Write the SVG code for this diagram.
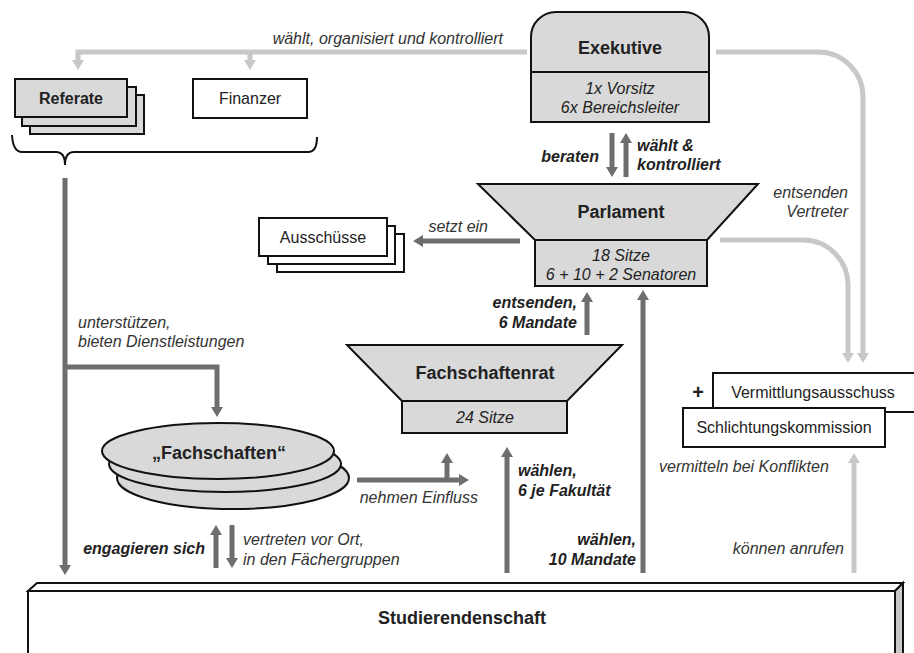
<svg xmlns="http://www.w3.org/2000/svg" width="914" height="653" viewBox="0 0 914 653">
<defs>
<style>
text{font-family:"Liberation Sans",Arial,sans-serif;fill:#222}
.t{font-size:18px;font-weight:bold;text-anchor:middle}
.n{font-size:16px;text-anchor:middle}
.i{font-size:16px;font-style:italic;fill:#333}
.bi{font-size:16px;font-style:italic;font-weight:bold;fill:#222}
.box{fill:#fff;stroke:#111;stroke-width:2}
.gbox{fill:#d9d9d9;stroke:#111;stroke-width:2}
.dk{fill:none;stroke:#6e6e6e;stroke-width:5}
.lt{fill:none;stroke:#c8c8c8;stroke-width:5}
.brace{fill:none;stroke:#111;stroke-width:2}
</style>
<marker id="ad" markerWidth="10" markerHeight="12" refX="0" refY="6" orient="auto" markerUnits="userSpaceOnUse"><path d="M0,0 L10,6 L0,12 z" fill="#6e6e6e"/></marker>
<marker id="al" markerWidth="10" markerHeight="12" refX="0" refY="6" orient="auto" markerUnits="userSpaceOnUse"><path d="M0,0 L10,6 L0,12 z" fill="#c8c8c8"/></marker>
</defs>
<rect width="914" height="653" fill="#fff"/>

<g id="connectors">
<path class="lt" d="M527,52 H78 V60" marker-end="url(#al)"/>
<path class="lt" d="M250,52 V60" marker-end="url(#al)"/>
<path class="lt" d="M716,52 H818 A45,45 0 0 1 863,97 V353" marker-end="url(#al)"/>
<path class="lt" d="M720,240 H803 A45,45 0 0 1 848,285 V353" marker-end="url(#al)"/>
<path class="lt" d="M854,573 V463" marker-end="url(#al)"/>
<path class="dk" d="M612,133 V167" marker-end="url(#ad)"/>
<path class="dk" d="M626,177 V143" marker-end="url(#ad)"/>
<path class="dk" d="M520,241 H423" marker-end="url(#ad)"/>
<path class="dk" d="M587,335 V302" marker-end="url(#ad)"/>
<path class="dk" d="M643,573 V300" marker-end="url(#ad)"/>
<path class="dk" d="M507,573 V457" marker-end="url(#ad)"/>
<path class="dk" d="M357,480 H459" marker-end="url(#ad)"/>
<path class="dk" d="M447,482 V463" marker-end="url(#ad)"/>
<path class="dk" d="M65,178 V565" marker-end="url(#ad)"/>
<path class="dk" d="M65,367 H217 V407" marker-end="url(#ad)"/>
<path class="dk" d="M216,568 V535" marker-end="url(#ad)"/>
<path class="dk" d="M232,525 V558" marker-end="url(#ad)"/>
<path class="brace" d="M12,135 Q13,152 22,152 H56 Q65,152 65,165 M65,165 Q65,152 74,152 H308 Q317,152 317,137"/>
</g>

<g id="labels">
<text class="i" x="503" y="44" text-anchor="end">wählt, organisiert und kontrolliert</text>
<text class="bi" x="599" y="162" text-anchor="end">beraten</text>
<text class="bi" x="637" y="151">wählt &amp;</text>
<text class="bi" x="637" y="170">kontrolliert</text>
<text class="i" x="848" y="198" text-anchor="end">entsenden</text>
<text class="i" x="848" y="217" text-anchor="end">Vertreter</text>
<text class="i" x="488" y="232" text-anchor="end">setzt ein</text>
<text class="bi" x="577" y="308" text-anchor="end">entsenden,</text>
<text class="bi" x="577" y="328" text-anchor="end">6 Mandate</text>
<text class="i" x="78" y="328">unterstützen,</text>
<text class="i" x="78" y="347">bieten Dienstleistungen</text>
<text class="i" x="478" y="503" text-anchor="end">nehmen Einfluss</text>
<text class="bi" x="518" y="476">wählen,</text>
<text class="bi" x="518" y="496">6 je Fakultät</text>
<text class="i" x="659" y="472">vermitteln bei Konflikten</text>
<text class="bi" x="205" y="554" text-anchor="end">engagieren sich</text>
<text class="i" x="243" y="545">vertreten vor Ort,</text>
<text class="i" x="243" y="565">in den Fächergruppen</text>
<text class="bi" x="636" y="545" text-anchor="end">wählen,</text>
<text class="bi" x="636" y="565" text-anchor="end">10 Mandate</text>
<text class="i" x="844" y="554" text-anchor="end">können anrufen</text>
</g>

<g id="exekutive">
<path class="gbox" d="M531,122 V37 A25,25 0 0 1 556,12 H684 A25,25 0 0 1 709,37 V122 Z"/>
<line x1="531" y1="72" x2="709" y2="72" stroke="#111" stroke-width="2"/>
<text class="t" x="620" y="54">Exekutive</text>
<text class="n" x="620" y="94" font-style="italic" fill="#333">1x Vorsitz</text>
<text class="n" x="620" y="113" font-style="italic" fill="#333">6x Bereichsleiter</text>
</g>

<g id="referate">
<rect class="gbox" x="30" y="95" width="114" height="39"/>
<rect class="gbox" x="22" y="87" width="114" height="39"/>
<rect class="gbox" x="15" y="79" width="112" height="38"/>
<text class="n" x="71" y="104" font-weight="bold">Referate</text>
</g>

<g id="finanzer">
<rect class="box" x="193" y="79" width="114" height="39"/>
<text class="n" x="250" y="104">Finanzer</text>
</g>

<g id="parlament">
<path class="gbox" d="M478,184 H758 L707,240 H535 Z"/>
<rect class="gbox" x="535" y="240" width="172" height="46"/>
<text class="t" x="621" y="218">Parlament</text>
<text class="n" x="621" y="261" font-style="italic" fill="#333">18 Sitze</text>
<text class="n" x="621" y="280" font-style="italic" fill="#333">6 + 10 + 2 Senatoren</text>
</g>

<g id="ausschuesse">
<rect class="box" x="277" y="234" width="127" height="38"/>
<rect class="box" x="268" y="226" width="127" height="38"/>
<rect class="box" x="259" y="218" width="128" height="38"/>
<text class="n" x="323" y="243">Ausschüsse</text>
</g>

<g id="fachschaftenrat">
<path class="gbox" d="M347,345 H622 L567,401 H402 Z"/>
<rect class="gbox" x="402" y="401" width="165" height="32"/>
<text class="t" x="485" y="379">Fachschaftenrat</text>
<text class="n" x="485" y="423" font-style="italic" fill="#333">24 Sitze</text>
</g>

<g id="fachschaften">
<ellipse class="gbox" cx="233" cy="478" rx="116" ry="31"/>
<ellipse class="gbox" cx="225" cy="464" rx="116" ry="28"/>
<ellipse class="gbox" cx="218" cy="451" rx="116" ry="28"/>
<text class="t" x="219" y="459">„Fachschaften“</text>
</g>

<g id="vermittlungsausschuss">
<rect class="box" x="713" y="373" width="205" height="39"/>
<text class="n" x="813" y="398">Vermittlungsausschuss</text>
<text x="698" y="399" font-size="20" font-weight="bold" text-anchor="middle">+</text>
</g>

<g id="schlichtungskommission">
<rect class="box" x="683" y="408" width="202" height="39"/>
<text class="n" x="784" y="433">Schlichtungskommission</text>
</g>

<g id="studierendenschaft">
<path d="M28,591 L37,583 H903 L895,591 Z" fill="#fff" stroke="#111" stroke-width="2"/>
<path d="M895,591 L903,583 V660 H895 Z" fill="#c8c8c8" stroke="#111" stroke-width="2"/>
<rect x="28" y="591" width="867" height="70" fill="#fff" stroke="#111" stroke-width="2"/>
<text class="t" x="462" y="624">Studierendenschaft</text>
</g>
</svg>
